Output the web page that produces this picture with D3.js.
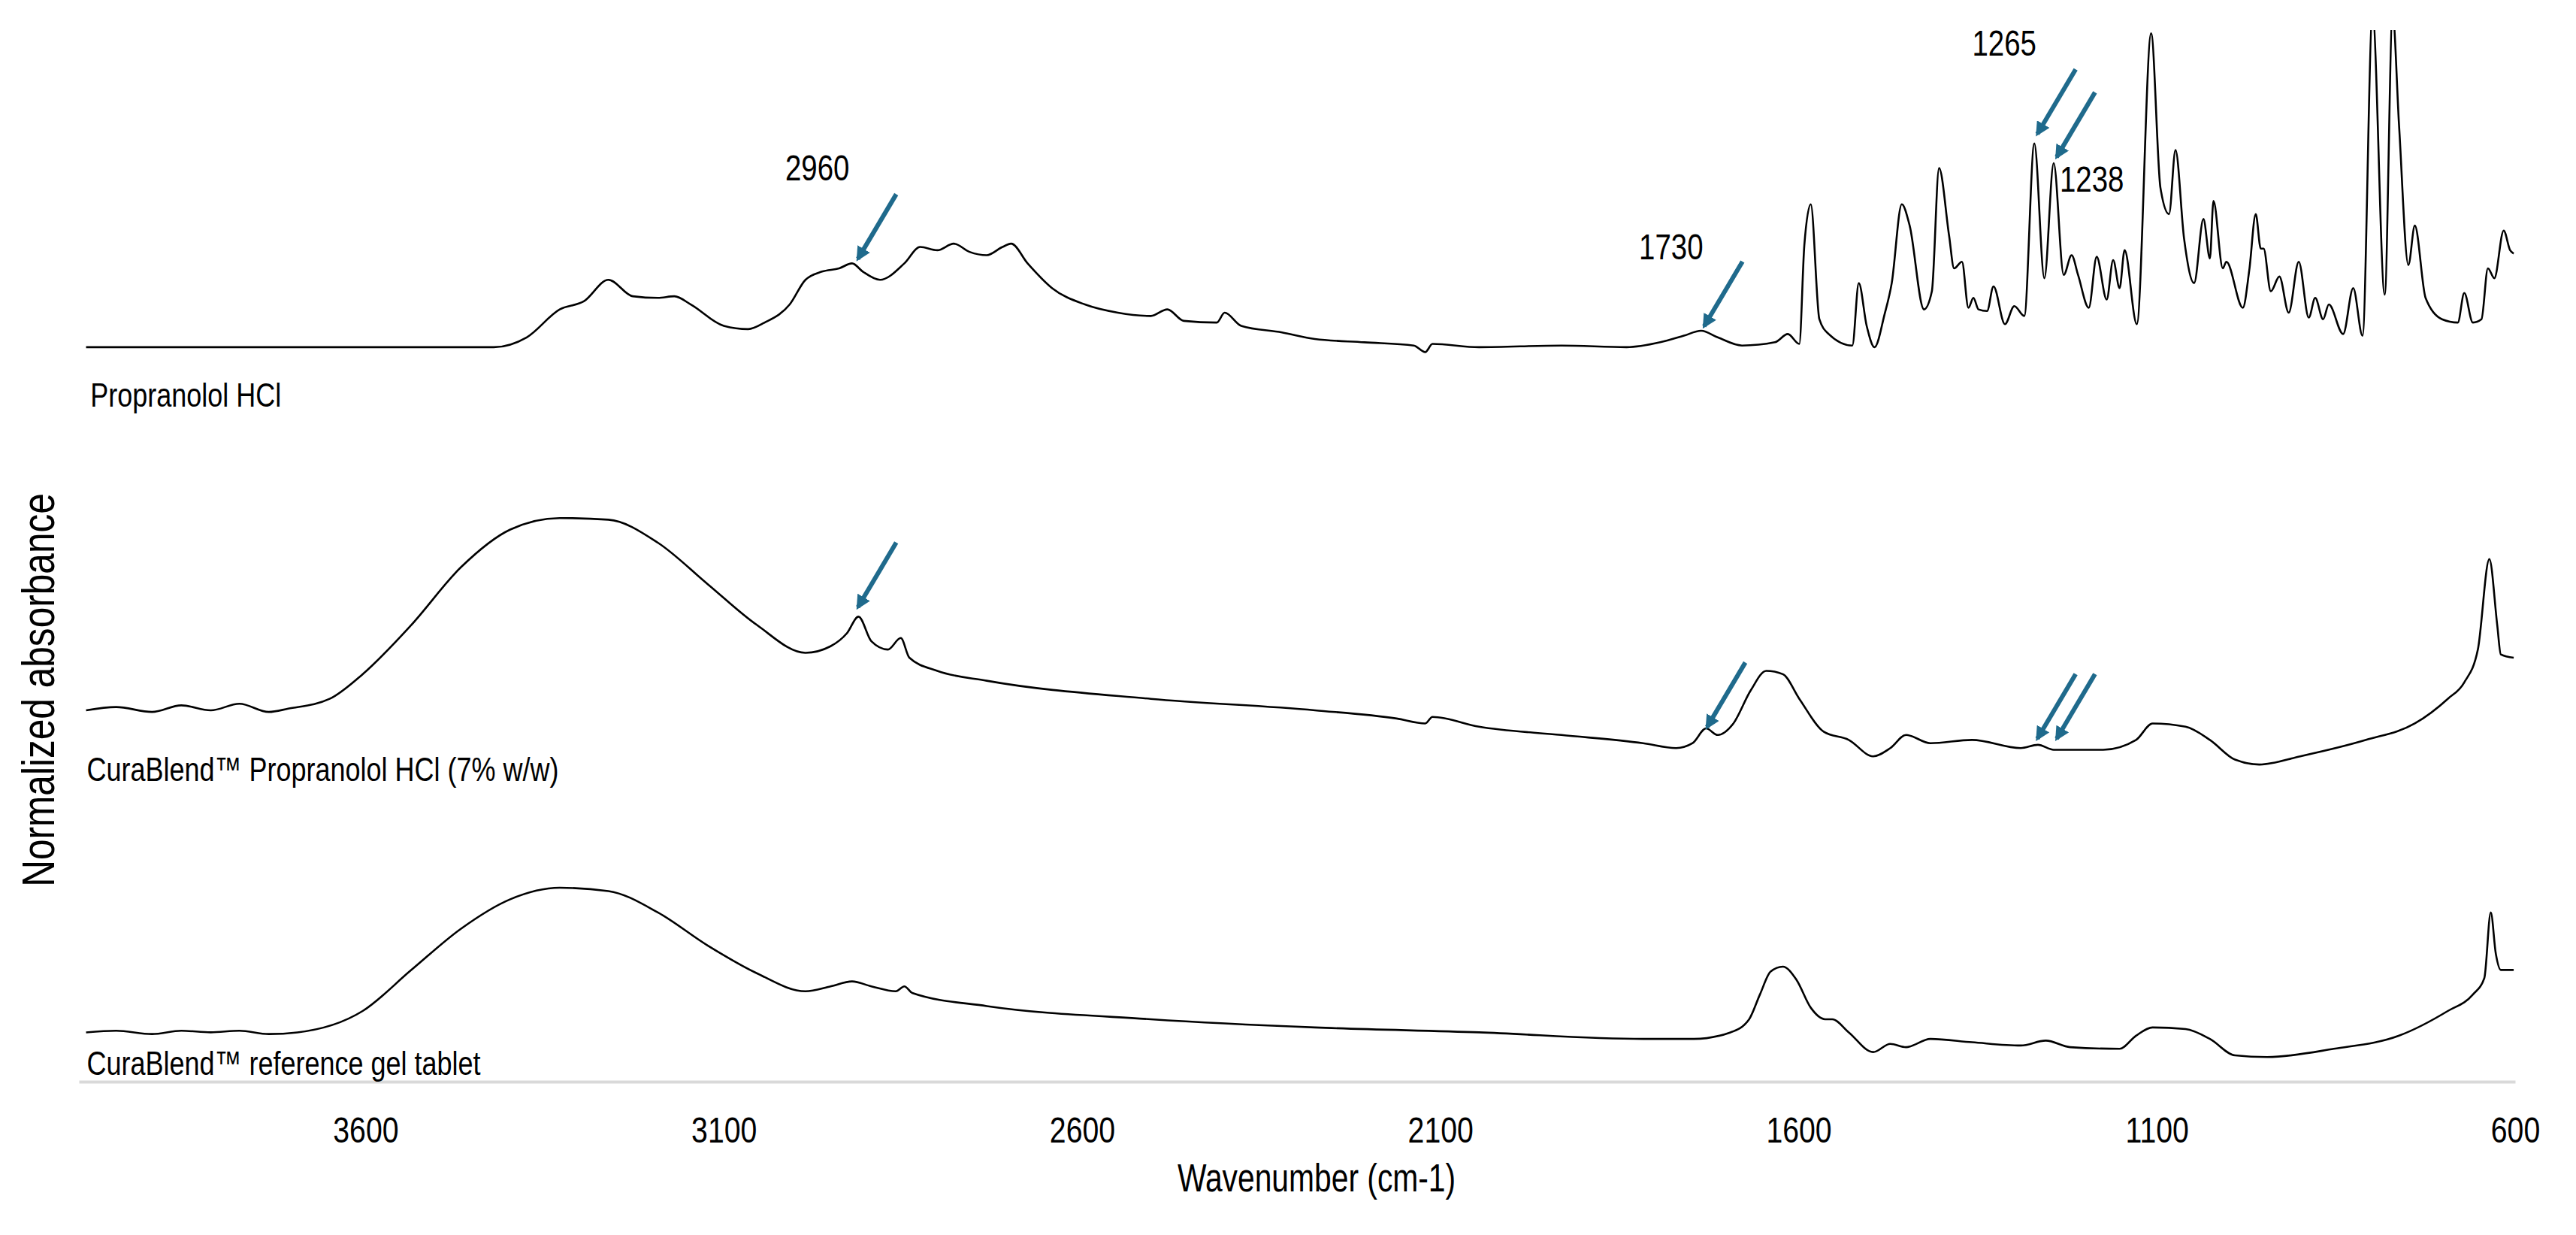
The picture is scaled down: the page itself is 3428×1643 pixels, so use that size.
<!DOCTYPE html>
<html><head><meta charset="utf-8">
<script src="https://cdn.jsdelivr.net/npm/d3@7"></script>
<style>body{margin:0;background:#fff}svg{display:block}text{font-family:"Liberation Sans",Arial,sans-serif}</style>
</head><body><svg id="c" width="3428" height="1643"></svg>
<script>
const xTicks=[3600,3100,2600,2100,1600,1100,600];
const propranolol=[[3990,447],[3421,447],[3375,453],[3329,470],[3295,475],[3261,488],[3227,478],[3192,477],[3169,478],[3146,473],[3100,460],[3066,458],[3043,462],[3008,473],[2986,488],[2963,493],[2939,495],[2921,498],[2906,493],[2882,488],[2848,498],[2826,508],[2802,506],[2779,510],[2757,505],[2733,503],[2711,508],[2699,510],[2676,498],[2642,483],[2596,473],[2550,468],[2504,466],[2481,470],[2458,463],[2412,462],[2401,468],[2378,460],[2321,456],[2275,452],[2206,450],[2137,448],[2121,444],[2111,449],[2046,447],[1931,448],[1840,447],[1793,450],[1760,454],[1736,457],[1713,453],[1679,448],[1633,450],[1615,455],[1599,449],[1592,509],[1583,534],[1571,464],[1558,455],[1525,448],[1516,486],[1505,460],[1494,447],[1480,467],[1470,486],[1456,534],[1445,521],[1425,470],[1414,481],[1404,556],[1390,515],[1383,495],[1372,499],[1363,471],[1356,477],[1349,470],[1337,469],[1328,484],[1312,461],[1299,472],[1285,466],[1271,571],[1257,489],[1244,559],[1230,491],[1219,503],[1210,491],[1195,471],[1184,502],[1170,476],[1161,500],[1152,483],[1145,506],[1128,461],[1108,638],[1095,544],[1083,528],[1074,567],[1062,513],[1048,486],[1035,525],[1026,501],[1021,536],[1008,495],[1003,499],[980,471],[971,494],[962,528],[955,507],[951,507],[941,481],[929,490],[916,468],[902,499],[888,465],[879,477],[868,464],[860,473],[840,455],[826,483],[813,454],[799,650],[782,479],[771,650],[762,582],[749,497],[740,521],[725,477],[702,464],[680,462],[671,480],[659,462],[647,464],[638,495],[629,489],[616,518],[607,506],[602,504]];
const curablendDrug=[[3990,226],[3948,228],[3898,225],[3857,229],[3816,226],[3776,230],[3735,225],[3708,227],[3650,233],[3604,248],[3536,278],[3467,313],[3398,336],[3329,343],[3261,342],[3192,328],[3123,303],[3054,278],[2986,261],[2951,265],[2928,273],[2912,283],[2894,268],[2871,263],[2853,270],[2841,258],[2802,250],[2733,244],[2504,233],[2275,226],[2161,221],[2121,218],[2111,222],[2046,216],[1931,211],[1817,206],[1771,203],[1748,206],[1729,215],[1713,211],[1691,218],[1667,238],[1645,250],[1622,248],[1599,233],[1565,213],[1530,208],[1496,198],[1472,203],[1450,211],[1416,206],[1358,208],[1290,203],[1266,205],[1244,202],[1175,202],[1129,208],[1106,218],[1060,216],[1026,208],[991,196],[957,193],[900,198],[808,208],[740,218],[694,233],[671,243],[652,263],[636,318],[625,278],[620,260],[602,258]];
const referenceGel=[[3990,30],[3948,31],[3898,29],[3857,31],[3816,30],[3776,31],[3735,29],[3695,30],[3604,43],[3536,68],[3467,93],[3398,111],[3329,118],[3261,116],[3192,103],[3123,83],[3054,66],[2986,55],[2951,58],[2921,61],[2894,58],[2860,55],[2848,58],[2837,54],[2733,46],[2504,38],[2275,33],[2046,30],[1817,26],[1746,26],[1695,30],[1669,38],[1654,53],[1639,67],[1622,70],[1603,62],[1583,45],[1563,38],[1553,38],[1530,30],[1496,18],[1472,23],[1450,21],[1416,26],[1358,24],[1290,22],[1255,25],[1221,21],[1152,20],[1129,28],[1106,33],[1060,32],[1026,26],[991,16],[946,15],[853,20],[762,28],[694,43],[659,53],[643,63],[634,103],[627,78],[620,68],[602,68]];
const annotations=[
 {wn:2917,v:498,label:"2960",lx:-50,ly:-110,anchor:"middle"},
 {wn:1736,v:457,label:"1730",lx:-40,ly:-95,anchor:"middle"},
 {wn:1271,v:574,label:"1265",lx:-40,ly:-110,anchor:"middle"},
 {wn:1244,v:560,label:"1238",lx:8,ly:0,anchor:"start"},
 {wn:2917,v:286,label:""},{wn:1732,v:213,label:""},{wn:1271,v:206,label:""},{wn:1244,v:206,label:""}];
const seriesLabels=[
 {text:"Propranolol HCl",wn:3984,v:411},
 {text:"CuraBlend™ Propranolol HCl (7% w/w)",wn:3989,v:183},
 {text:"CuraBlend™ reference gel tablet",wn:3989,v:4}];

const SX=0.8;
const svg=d3.select("#c");
const x=d3.scaleLinear().domain([4000,600]).range([105,3347]);
const y=d3.scaleLinear().domain([0,658.3]).range([1439,0]);
function txt(px,py,s,size,anchor,rot){
 return svg.append("text").attr("transform",`translate(${px},${py})`+(rot?` rotate(${rot})`:"")+` scale(${SX},1)`)
  .attr("text-anchor",anchor||"start").attr("font-size",size).text(s);
}
svg.append("defs").append("clipPath").attr("id","cp").append("rect").attr("x",0).attr("y",40).attr("width",3428).attr("height",1500);
svg.append("defs").append("marker").attr("id","ah").attr("viewBox","0 0 10 10").attr("refX",8).attr("refY",5)
 .attr("markerWidth",3.2).attr("markerHeight",3.2).attr("orient","auto")
 .append("path").attr("d","M0,0L10,5L0,10z").attr("fill","#1f6a8c");
const line=d3.line().x(d=>x(d[0])).y(d=>y(d[1])).curve(d3.curveMonotoneX);
[propranolol,curablendDrug,referenceGel].forEach(s=>svg.append("path").datum(s).attr("d",line)
 .attr("fill","none").attr("stroke","#000").attr("stroke-width",2.6).attr("clip-path","url(#cp)"));
const ax=svg.append("g").attr("transform",`translate(0,${y(0)})`).call(d3.axisBottom(x).tickValues(xTicks).tickFormat(d3.format("d")).tickSize(0).tickPadding(46));
ax.select(".domain").attr("stroke","#d9d9d9").attr("stroke-width",4);
ax.selectAll("text").attr("font-size",49).attr("fill","#000").attr("transform",`scale(${SX},1)`);
txt(1752,1585,"Wavenumber (cm-1)",51,"middle");
txt(72,918,"Normalized absorbance",62,"middle",-90);
seriesLabels.forEach(l=>txt(x(l.wn),y(l.v),l.text,45));
annotations.forEach(a=>{
 const tx=x(a.wn),ty=y(a.v);
 svg.append("line").attr("x1",tx+55).attr("y1",ty-92).attr("x2",tx+4).attr("y2",ty-6)
  .attr("stroke","#1f6a8c").attr("stroke-width",6).attr("marker-end","url(#ah)");
 if(a.label) txt(tx+a.lx,ty+a.ly+(a.anchor==="start"?40:0),a.label,48,a.anchor);
});
</script></body></html>
